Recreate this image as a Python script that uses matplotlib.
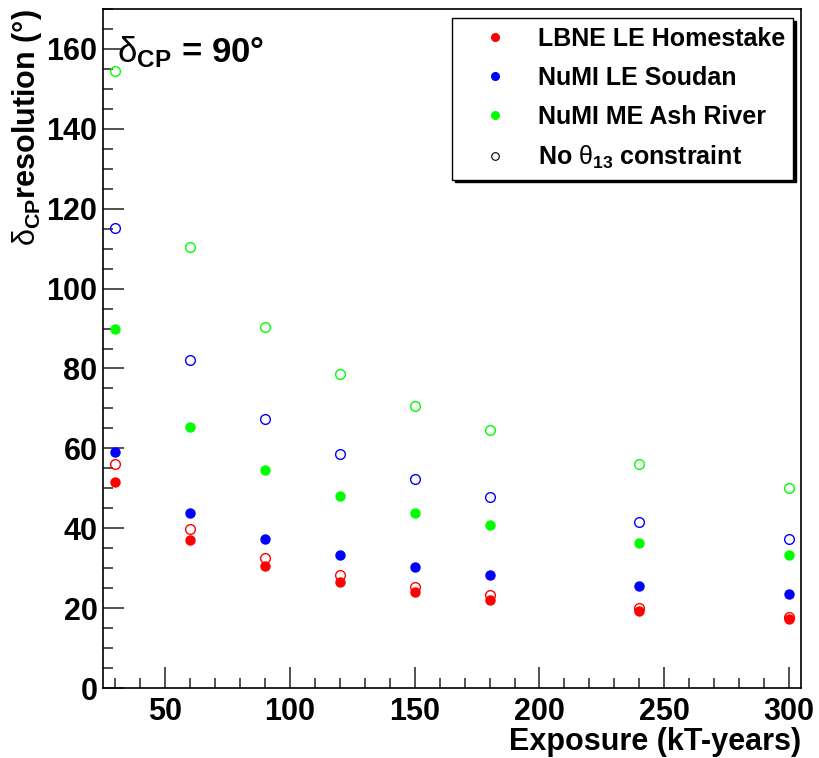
import matplotlib
matplotlib.use('Agg')
import matplotlib.pyplot as plt
from matplotlib.ticker import MultipleLocator
from matplotlib.lines import Line2D

plt.rcParams['font.family'] = ['Liberation Sans', 'DejaVu Sans']
plt.rcParams['mathtext.fontset'] = 'custom'
plt.rcParams['mathtext.rm'] = 'Liberation Sans'
plt.rcParams['mathtext.bf'] = 'Liberation Sans:bold'
plt.rcParams['mathtext.it'] = 'Liberation Sans:italic'

# exposure in kT-years
exposure = [30, 60, 90, 120, 150, 180, 240, 300]

# dCP resolution (deg), with theta13 constraint (filled) and without (open)
lbne_le_homestake = [51.5, 37.0, 30.5, 26.5, 24.0, 22.0, 19.3, 17.2]
lbne_le_homestake_free = [56.0, 39.7, 32.5, 28.3, 25.3, 23.2, 20.0, 17.8]
numi_le_soudan = [59.0, 43.8, 37.2, 33.2, 30.4, 28.3, 25.5, 23.5]
numi_le_soudan_free = [115.3, 82.2, 67.4, 58.5, 52.3, 47.8, 41.5, 37.2]
numi_me_ashriver = [90.0, 65.3, 54.6, 48.2, 43.9, 40.8, 36.4, 33.4]
numi_me_ashriver_free = [154.6, 110.4, 90.5, 78.7, 70.5, 64.5, 56.0, 50.1]

labels = ['LBNE LE Homestake', 'NuMI LE Soudan', 'NuMI ME Ash River',
          'No $\\mathrm{\\theta}_{\\mathbf{13}}$ constraint']
colors = ['#ff0000', '#0000ff', '#00ff00']

fig = plt.figure(figsize=(8.19, 7.58), dpi=100)
ax = fig.add_axes([0.1258, 0.0923, 0.8526, 0.8958])

filled = [lbne_le_homestake, numi_le_soudan, numi_me_ashriver]
opened = [lbne_le_homestake_free, numi_le_soudan_free, numi_me_ashriver_free]
for vals, c in zip(opened, colors):
    ax.plot(exposure, vals, 'o', mfc='none', mec=c, mew=1.0, ms=7)
for vals, c in zip(filled, colors):
    ax.plot(exposure, vals, 'o', color=c, ms=6.5)

ax.set_xlim(25, 305)
ax.set_ylim(0, 170)
ax.xaxis.set_major_locator(MultipleLocator(50))
ax.xaxis.set_minor_locator(MultipleLocator(10))
ax.yaxis.set_major_locator(MultipleLocator(20))
ax.yaxis.set_minor_locator(MultipleLocator(5))
ax.tick_params(which='both', direction='in', top=False, right=False,
               labelsize=22, width=1.2, color='#333333')
ax.tick_params(which='major', length=15)
ax.tick_params(which='minor', length=7.5)
ax.tick_params(axis='x', which='major', pad=6.5)
ax.tick_params(axis='y', which='major', pad=4)
for lab in ax.get_xticklabels() + ax.get_yticklabels():
    lab.set_fontweight('bold')
for s in ax.spines.values():
    s.set_linewidth(1.2)

ax.set_xlabel('Exposure (kT-years)', loc='right', fontsize=22,
              fontweight='bold', labelpad=0)
ax.set_ylabel('$\\mathrm{\\delta}_{\\mathbf{CP}}$resolution (°)', loc='top',
              fontsize=22, fontweight='bold')
ax.yaxis.set_label_coords(-0.085, 1.0)

ax.text(0.02, 0.922, '$\\mathrm{\\delta}_{\\mathbf{CP}}$ = 90°',
        transform=ax.transAxes, fontsize=25, fontweight='bold',
        va='baseline', ha='left')

handles = [Line2D([], [], marker='o', ls='', color=c, ms=5.5) for c in colors]
handles.append(Line2D([], [], marker='o', ls='', mfc='none', mec='black',
                      mew=0.8, ms=5.5))
leg = ax.legend(handles, labels, loc='upper left',
                bbox_to_anchor=(0.5, 0.75, 0.4885, 0.237), mode='expand',
                borderaxespad=0, fancybox=False, edgecolor='black',
                shadow={'color': 'black', 'alpha': 1},
                prop={'weight': 'bold', 'size': 18}, handlelength=2.7,
                handletextpad=0.39, labelspacing=0.6, borderpad=0.35)
leg.get_frame().set_linewidth(1.0)

fig.savefig('out.png', dpi=100)
